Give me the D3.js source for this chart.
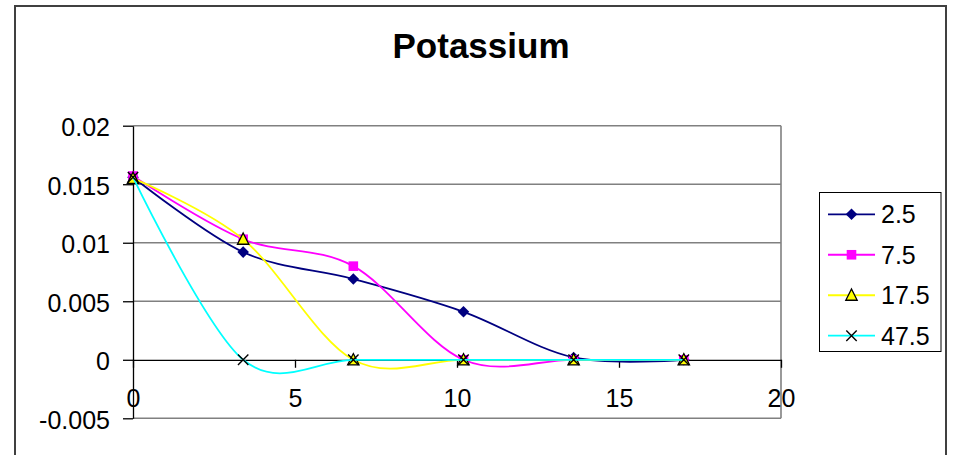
<!DOCTYPE html>
<html>
<head>
<meta charset="utf-8">
<script src="https://cdn.jsdelivr.net/npm/d3@7"></script>
<style>
  html, body { margin: 0; padding: 0; background: #fff; }
  svg { display: block; }
  text { font-family: "Liberation Sans", Arial, sans-serif; fill: #000; }
</style>
</head>
<body>
<svg id="chart" width="953" height="455"></svg>
<script>
// Sampling positions (x) and the four series
const xValues = [0, 3.4, 6.8, 10.2, 13.6, 17];
const series25 = [0.0156, 0.0092, 0.0069, 0.0041, 0.0002, 0];
const series75 = [0.0157, 0.0103, 0.0080, 0, 0, 0];
const series175 = [0.0155, 0.0103, 0, 0, 0, 0];
const series475 = [0.0156, 0, 0, 0, 0, 0];
const seriesNames = ["2.5", "7.5", "17.5", "47.5"];

const yTicks = [0.02, 0.015, 0.01, 0.005, 0, -0.005];
const yTickLabels = ["0.02", "0.015", "0.01", "0.005", "0", "-0.005"];
const xTicks = [0, 5, 10, 15, 20];
const xTickLabels = ["0", "5", "10", "15", "20"];

const seriesData = [series25, series75, series175, series475];
const colors = ["#000080", "#ff00ff", "#ffff00", "#00ffff"];
const markers = ["diamond", "square", "triangle", "cross"];

const svg = d3.select("#chart");

// Plot area geometry
const plotLeft = 133, plotRight = 781, plotTop = 125.7, plotBottom = 418.3;
const x = d3.scaleLinear().domain([0, 20]).range([plotLeft, plotRight]);
const y = d3.scaleLinear().domain([-0.005, 0.02]).range([plotBottom, plotTop]);

// Outer chart frame
svg.append("rect")
  .attr("x", 15).attr("y", 6)
  .attr("width", 931).attr("height", 470)
  .attr("fill", "#fff")
  .attr("stroke", "#404040").attr("stroke-width", 2);

// Title
svg.append("text")
  .attr("x", 481).attr("y", 58)
  .attr("text-anchor", "middle")
  .style("font-size", "35px").style("font-weight", "bold")
  .text("Potassium");

// Horizontal gridlines
svg.append("g")
  .selectAll("line")
  .data(yTicks.filter(d => d !== 0))
  .join("line")
  .attr("x1", plotLeft).attr("x2", plotRight)
  .attr("y1", d => y(d)).attr("y2", d => y(d))
  .attr("stroke", "#808080").attr("stroke-width", 1.6);

// Right border of the plot area
svg.append("line")
  .attr("x1", plotRight).attr("x2", plotRight)
  .attr("y1", plotTop).attr("y2", plotBottom)
  .attr("stroke", "#808080").attr("stroke-width", 1.6);

// Y axis
const yAxis = d3.axisLeft(y)
  .tickValues(yTicks)
  .tickSize(10)
  .tickSizeOuter(0)
  .tickFormat((d, i) => yTickLabels[i]);
const gy = svg.append("g").attr("transform", `translate(${plotLeft},0)`).call(yAxis);
gy.select(".domain").attr("stroke", "#000").attr("stroke-width", 1.3);
gy.selectAll(".tick line").attr("stroke", "#000").attr("stroke-width", 1.3);
gy.selectAll(".tick text")
  .attr("x", -23).attr("dy", "0.4em")
  .style("font-size", "25px")
  .style("font-family", "'Liberation Sans', Arial, sans-serif")
  .attr("fill", "#000");

// X axis drawn through zero
const xAxis = d3.axisBottom(x)
  .tickValues(xTicks)
  .tickSize(8)
  .tickSizeOuter(0)
  .tickFormat((d, i) => xTickLabels[i]);
const gx = svg.append("g").attr("transform", `translate(0,${y(0)})`).call(xAxis);
gx.select(".domain").attr("stroke", "#000").attr("stroke-width", 1.3);
gx.selectAll(".tick line").attr("stroke", "#000").attr("stroke-width", 1.3);
gx.selectAll(".tick text")
  .attr("y", 29).attr("dy", "0.71em")
  .style("font-size", "25px")
  .style("font-family", "'Liberation Sans', Arial, sans-serif")
  .attr("fill", "#000");

// Marker shapes
function markerPath(type) {
  switch (type) {
    case "diamond": return "M0,-5.8L5.8,0L0,5.8L-5.8,0Z";
    case "square": return "M-4.8,-4.8H4.8V4.8H-4.8Z";
    case "triangle": return "M0,-6.2L5.7,5H-5.7Z";
    case "cross": return "M-5.2,-5.2L5.2,5.2M5.2,-5.2L-5.2,5.2";
  }
}
function styleMarker(sel, i) {
  const t = markers[i];
  sel.attr("d", markerPath(t));
  if (t === "triangle") sel.attr("fill", colors[i]).attr("stroke", "#000").attr("stroke-width", 1.3);
  else if (t === "cross") sel.attr("fill", "none").attr("stroke", "#000").attr("stroke-width", 1.4);
  else sel.attr("fill", colors[i]).attr("stroke", "none");
}

// Smoothed series lines with markers
const line = d3.line()
  .x((d, i) => x(xValues[i]))
  .y(d => y(d))
  .curve(d3.curveCardinal.tension(0));

seriesData.forEach((vals, i) => {
  const g = svg.append("g");
  g.append("path")
    .attr("d", line(vals))
    .attr("fill", "none")
    .attr("stroke", colors[i])
    .attr("stroke-width", 1.8);
  g.selectAll("path.marker")
    .data(vals)
    .join("path")
    .attr("class", "marker")
    .attr("transform", (d, j) => `translate(${x(xValues[j])},${y(d)})`)
    .call(sel => styleMarker(sel, i));
});

// Legend
const legend = svg.append("g");
legend.append("rect")
  .attr("x", 819.5).attr("y", 192.5)
  .attr("width", 121.5).attr("height", 159)
  .attr("fill", "#fff").attr("stroke", "#000").attr("stroke-width", 1);
const legendY = d3.scalePoint().domain(seriesNames).range([214.3, 335.7]);
seriesNames.forEach((name, i) => {
  const cy = legendY(name);
  legend.append("line")
    .attr("x1", 828).attr("x2", 875)
    .attr("y1", cy).attr("y2", cy)
    .attr("stroke", colors[i]).attr("stroke-width", 1.8);
  legend.append("path")
    .attr("transform", `translate(851.5,${cy})`)
    .call(sel => styleMarker(sel, i));
  legend.append("text")
    .attr("x", 881).attr("y", cy).attr("dy", "0.36em")
    .style("font-size", "25px")
    .text(name);
});
</script>
</body>
</html>
